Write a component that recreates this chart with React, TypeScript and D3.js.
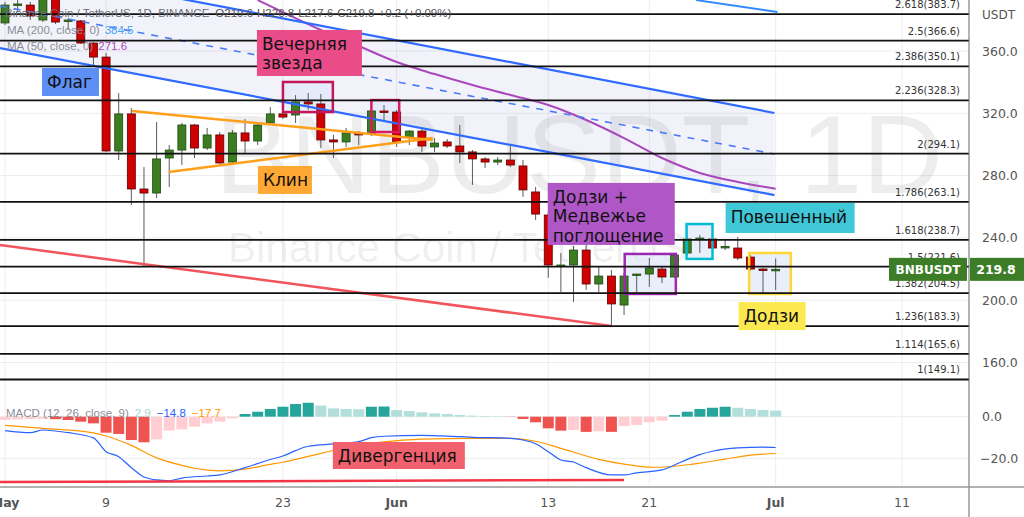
import React from 'react'
import * as d3 from 'd3'

const startDay = Date.UTC(2022, 4, 1)
const endDay = Date.UTC(2022, 6, 11)
const DAY = 864e5

// daily candles, 1 May - 1 Jul 2022
const opens = [378.0, 389.5, 389.5, 379.9, 394.7, 379.3, 379.3, 365.1, 356.1, 295.8, 319.6, 271.4, 268.8, 291.3, 296.4, 312.5, 297.7, 306.1, 288.7, 307.4, 302.2, 313.8, 319.6, 318.9, 327.3, 326.0, 302.9, 301.6, 307.4, 306.7, 321.5, 320.8, 304.8, 308.6, 298.4, 301.6, 299.0, 295.2, 290.7, 288.7, 290.0, 286.2, 269.5, 254.7, 222.0, 222.6, 232.2, 210.4, 215.5, 196.9, 216.2, 216.8, 220.0, 214.9, 230.3, 239.6, 239.3, 234.2, 233.5, 227.7, 220.0, 219.6]
const highs = [391.5, 392.7, 391.5, 397.9, 397.9, 381.2, 379.9, 365.8, 358.7, 333.0, 323.4, 285.5, 314.4, 299.6, 313.8, 313.1, 310.6, 308.0, 309.3, 316.3, 313.1, 324.0, 320.8, 331.7, 333.0, 332.4, 306.1, 310.6, 308.6, 323.4, 325.3, 322.1, 309.3, 310.6, 304.1, 303.5, 312.5, 296.4, 291.9, 291.9, 299.0, 290.0, 272.7, 256.6, 230.2, 234.8, 235.4, 221.3, 219.4, 217.5, 216.8, 227.1, 221.9, 230.3, 240.6, 241.9, 241.2, 238.6, 240.6, 229.0, 220.7, 226.8]
const lows = [376.7, 385.0, 379.9, 378.6, 377.3, 373.5, 364.5, 351.0, 295.2, 290.0, 261.1, 221.3, 265.6, 272.7, 286.8, 291.3, 296.4, 287.4, 288.1, 294.5, 299.6, 313.1, 316.3, 313.8, 322.1, 297.7, 291.3, 298.4, 299.6, 305.4, 314.4, 298.4, 299.6, 295.2, 295.2, 297.7, 288.1, 274.0, 284.9, 286.8, 285.5, 266.3, 251.5, 214.3, 205.3, 198.8, 206.6, 205.3, 184.1, 190.5, 205.3, 208.5, 211.0, 214.3, 229.0, 230.3, 232.2, 232.2, 225.8, 218.8, 204.6, 206.5]
const closes = [389.5, 390.2, 382.5, 394.7, 378.6, 379.9, 365.1, 356.1, 295.8, 319.6, 271.4, 268.8, 290.7, 296.4, 312.5, 297.7, 306.1, 288.1, 307.4, 302.2, 312.5, 319.6, 317.6, 327.3, 326.0, 302.9, 301.6, 307.4, 306.1, 321.5, 320.8, 301.6, 308.6, 299.0, 300.9, 299.0, 295.2, 290.7, 288.7, 290.0, 286.8, 270.8, 255.3, 222.6, 222.6, 232.2, 210.4, 215.5, 197.6, 215.5, 216.8, 220.7, 214.9, 229.0, 239.3, 239.9, 233.5, 234.5, 227.1, 220.0, 219.7, 219.8]

// MA 50
const ma50Days = [20, 22, 25, 28, 31, 34, 37, 40, 43, 46, 49, 52, 55, 58, 61]
const ma50Values = [392.7, 385.0, 373.5, 363.2, 352.9, 345.2, 338.2, 331.8, 325.3, 315.7, 304.1, 291.3, 281.7, 275.9, 271.6]

// MACD (12, 26, 9)
const macdHist = [-1.5, -1.3, -1.1, -1.0, -1.2, -1.6, -2.4, -3.2, -7.7, -8.3, -11.2, -12.3, -10.9, -6.7, -6.1, -4.8, -3.2, -2.4, -0.8, 1.3, 2.4, 3.7, 4.8, 6.1, 6.7, 5.4, 4.0, 3.7, 3.6, 4.8, 4.9, 3.2, 2.7, 2.1, 1.6, 1.3, 0.8, 0.5, 0.3, 0.2, -0.1, -1.1, -2.7, -5.6, -6.7, -6.4, -7.3, -7.0, -7.3, -4.5, -4.0, -2.7, -1.9, 0.8, 2.4, 3.7, 4.3, 4.8, 4.3, 3.7, 3.2, 2.9]
const macdDays = [0, 2, 3, 5, 7, 8, 9, 10, 11, 12, 13, 14, 16, 17, 19, 21, 22, 23, 24, 26, 28, 29, 30, 33, 35, 37, 40, 41, 42, 43, 44, 45, 46, 48, 49, 50, 52, 53, 54, 55, 56, 58, 60, 61]
const macdValues = [-6.7, -7.7, -6.4, -7.7, -10.2, -16.8, -19.2, -24.5, -29.0, -30.4, -30.8, -29.5, -28.5, -28.0, -24.5, -20.6, -18.9, -16.3, -14.2, -13.1, -12.0, -10.1, -9.4, -9.0, -9.3, -9.9, -10.4, -11.2, -13.0, -16.8, -20.8, -21.8, -24.5, -28.0, -28.0, -27.0, -25.6, -23.2, -20.5, -18.2, -16.6, -15.0, -14.6, -14.8]
const signalDays = [0, 3, 7, 8, 10, 12, 14, 15, 17, 19, 21, 22, 25, 28, 30, 33, 37, 40, 42, 44, 47, 49, 51, 52, 54, 55, 57, 59, 61]
const signalValues = [-4.1, -5.6, -7.8, -9.3, -13.8, -19.8, -23.4, -24.8, -26.0, -25.2, -22.9, -21.9, -17.6, -13.7, -12.1, -10.8, -10.4, -10.4, -11.8, -15.2, -20.5, -22.8, -24.2, -24.3, -23.1, -22.3, -20.4, -18.5, -17.7]

const fibRatios = ['2.618', '2.5', '2.386', '2.236', '2', '1.786', '1.618', '1.5', '1.382', '1.236', '1.114', '1']
const fibPrices = [383.7, 366.6, 350.1, 328.3, 294.1, 263.1, 238.7, 221.6, 204.5, 183.3, 165.6, 149.1]

const priceTicks = [360, 320, 280, 240, 200, 160]
const macdTicks = [0, -20]
const timeTicks = ['2022-05-01', '2022-05-09', '2022-05-23', '2022-06-01', '2022-06-13', '2022-06-21', '2022-07-01', '2022-07-11']
const timeLabels = ['May', '9', '23', 'Jun', '13', '21', 'Jul', '11']

// drawings, [day, price]
const channelUpper = [[-0.4, 415.9], [60.9, 320.2]]
const channelLower = [[-0.4, 361.9], [60.9, 267.5]]
const topRightLine = [[54.7, 392.7], [61.15, 385.0]]
const wedgeUpper = [[10.05, 321.5], [33.86, 302.9]]
const wedgeLower = [[12.97, 282.3], [33.86, 304.1]]
const supportLine = [[-0.4, 235.4], [48.0, 183.4]]
const macdDivLine = [[-0.4, -31.4], [49.0, -30.4]]

const FONT = 'Liberation Sans, Arial, sans-serif'
const DJ = 'DejaVu Sans, sans-serif'

export default function App() {
  const W = 1024
  const H = 517
  const PR = 969

  const x = d3.scaleUtc().domain([new Date(startDay), new Date(endDay)]).range([5, 902])
  const xd = (d: number) => x(new Date(startDay + d * DAY))
  const y = d3.scaleLinear().domain([160, 360]).range([362.5, 51])
  const ym = d3.scaleLinear().domain([-20, 0]).range([458.3, 416.7])

  const seg = (p: number[][], sy = y) => ({ x1: xd(p[0][0]), y1: sy(p[0][1]), x2: xd(p[1][0]), y2: sy(p[1][1]) })

  const maLine = d3.line<number>().x((d, i) => xd(ma50Days[i])).y(d => y(d)).curve(d3.curveMonotoneX)
  const macdPath = d3.line<number>().x((d, i) => xd(macdDays[i])).y(d => ym(d)).curve(d3.curveMonotoneX)
  const sigPath = d3.line<number>().x((d, i) => xd(signalDays[i])).y(d => ym(d)).curve(d3.curveMonotoneX)

  const histColor = (v: number, i: number) => {
    const prev = i > 0 ? macdHist[i - 1] : v
    if (v >= 0) return v > prev ? '#26a69a' : '#b2dfdb'
    return v < prev ? '#ef5350' : '#ffcdd2'
  }

  const chan = [
    [xd(channelUpper[0][0]), y(channelUpper[0][1])],
    [xd(channelUpper[1][0]), y(channelUpper[1][1])],
    [xd(channelLower[1][0]), y(channelLower[1][1])],
    [xd(channelLower[0][0]), y(channelLower[0][1])],
  ]
  const midA = [channelUpper[0][0], (channelUpper[0][1] + channelLower[0][1]) / 2]
  const midB = [channelUpper[1][0], (channelUpper[1][1] + channelLower[1][1]) / 2]

  // outlined pattern boxes [day0, day1, priceTop, priceBottom]
  const boxes = [
    { d: [22.0, 25.95, 340.1, 320.8], c: '#c2185b' },
    { d: [29.0, 31.2, 328.5, 308.0], c: '#d81b60' },
    { d: [49.05, 53.1, 229.7, 204.0], c: '#9c27b0' },
    { d: [53.95, 56.0, 248.9, 226.5], c: '#00bcd4' },
    { d: [58.9, 62.2, 230.3, 204.0], c: '#fdd835' },
  ]

  // label callouts anchored at [day, price], size in px
  const labels = [
    { at: [2.93, 349.1], w: 57, h: 28, c: '#5e8ff5', lines: ['Флаг'] },
    { at: [19.94, 373.5], w: 105, h: 46, c: '#ea4c89', lines: ['Вечерняя', 'звезда'] },
    { at: [20.02, 286.2], w: 54, h: 28, c: '#ffa833', lines: ['Клин'] },
    { at: [42.96, 275.3], w: 127, h: 62, c: '#b057c7', lines: ['Додзи +', 'Медвежье', 'поглощение'] },
    { at: [57.04, 262.4], w: 129, h: 30, c: '#40c8d8', lines: ['Повешенный'] },
    { at: [58.07, 198.8], w: 67, h: 28, c: '#fce94f', lines: ['Додзи'] },
  ]
  const divLabel = { at: [25.95, -12.16], w: 132, h: 27, c: '#f0616d', lines: ['Дивергенция'] }

  const renderLabel = (l: any, sy: any, key: string) => {
    const lx = xd(l.at[0])
    const ly = sy(l.at[1])
    return (
      <g key={key}>
        <rect x={lx} y={ly} width={l.w} height={l.h} fill={l.c} />
        {l.lines.map((t: string, i: number) => (
          <text key={i} x={lx + 5} y={ly + 20 + i * 19.5} fontFamily={DJ} fontSize={17} fill="#111">{t}</text>
        ))}
      </g>
    )
  }

  const closeLast = closes[closes.length - 1]

  return (
    <div style={{ position: 'absolute', left: 0, top: 0 }}>
      <svg width={W} height={H} style={{ display: 'block', background: '#fff' }}>
        <defs>
          <clipPath id="pricePane"><rect x={0} y={0} width={PR} height={397} /></clipPath>
          <clipPath id="macdPane"><rect x={0} y={397} width={PR} height={90} /></clipPath>
        </defs>

        {/* grid */}
        {timeTicks.map((t, i) => (
          <line key={'vg' + i} x1={x(new Date(t))} x2={x(new Date(t))} y1={0} y2={487} stroke="#ededed" />
        ))}
        {priceTicks.map(p => (
          <line key={'hg' + p} x1={0} x2={PR} y1={y(p)} y2={y(p)} stroke="#ededed" />
        ))}
        {macdTicks.map(v => (
          <line key={'mg' + v} x1={0} x2={PR} y1={ym(v)} y2={ym(v)} stroke="#ededed" />
        ))}

        <g clipPath="url(#pricePane)">
          {/* watermark */}
          <text x={215} y={193} fontFamily={FONT} fontSize={112} fill="#000" fillOpacity={0.07}>BNBUSDT, 1D</text>
          <text x={228} y={262} fontFamily={FONT} fontSize={42} fill="#000" fillOpacity={0.07}>Binance Coin / TetherUS</text>

          {/* channel */}
          <polygon points={chan.map(p => p.join(',')).join(' ')} fill="#5c6bc0" fillOpacity={0.08} />

          {boxes.map((b, i) => (
            <rect key={'bf' + i} x={xd(b.d[0])} y={y(b.d[2])} width={xd(b.d[1]) - xd(b.d[0])} height={y(b.d[3]) - y(b.d[2])}
              fill="#dfe7fa" fillOpacity={0.7} />
          ))}

          {/* candles */}
          {opens.map((o, i) => {
            const c = closes[i]
            const up = c >= o
            const cx = xd(i)
            const top = y(Math.max(o, c))
            const hgt = Math.max(1.5, Math.abs(y(o) - y(c)))
            return (
              <g key={'c' + i}>
                <line x1={cx} x2={cx} y1={y(highs[i])} y2={y(lows[i])} stroke="#5a5a5a" strokeWidth={1} />
                <rect x={cx - 4} y={top} width={8} height={hgt}
                  fill={up ? '#3c7d22' : '#d00000'} stroke={up ? '#1f4a10' : '#5c0000'} strokeWidth={0.8} />
              </g>
            )
          })}

          {/* MA 50 */}
          <path d={maLine(ma50Values) || ''} fill="none" stroke="#ab47bc" strokeWidth={2} />

          {/* channel lines */}
          <line {...seg(channelUpper)} stroke="#2f6bff" strokeWidth={2.2} />
          <line {...seg(channelLower)} stroke="#2f6bff" strokeWidth={2.2} />
          <line {...seg([midA, midB])} stroke="#4a7cf5" strokeWidth={1.6} strokeDasharray="7 7" />
          <line {...seg(topRightLine)} stroke="#2f8bff" strokeWidth={2} />

          {/* wedge and support */}
          <line {...seg(wedgeUpper)} stroke="#ff9f1a" strokeWidth={2.5} />
          <line {...seg(wedgeLower)} stroke="#ff9f1a" strokeWidth={2.5} />
          <line {...seg(supportLine)} stroke="#f2545b" strokeWidth={2.5} />

          {boxes.map((b, i) => (
            <rect key={'bo' + i} x={xd(b.d[0])} y={y(b.d[2])} width={xd(b.d[1]) - xd(b.d[0])} height={y(b.d[3]) - y(b.d[2])}
              fill="none" stroke={b.c} strokeWidth={2.5} />
          ))}

          {/* fibonacci extension */}
          {fibPrices.map((p, i) => (
            <g key={'f' + i}>
              <line x1={0} x2={PR} y1={y(p)} y2={y(p)} stroke="#111" strokeWidth={1.8} />
              <text x={960} y={y(p) - 6} textAnchor="end" fontFamily={DJ} fontSize={10} fill="#333">
                {fibRatios[i]}({p.toFixed(1)})
              </text>
            </g>
          ))}

          {labels.map((l, i) => renderLabel(l, y, 'l' + i))}

          {/* legend */}
          <text x={5} y={17} fontFamily={FONT} fontSize={11.5} fill="#6a6d78">
            Binance Coin / TetherUS, 1D, BINANCE
            <tspan dx={6} fill="#555">O219.6</tspan>
            <tspan dx={4} fill="#555">H226.8</tspan>
            <tspan dx={4} fill="#555">L217.6</tspan>
            <tspan dx={4} fill="#555">C219.8</tspan>
            <tspan dx={4} fill="#555">+0.2 (+0.09%)</tspan>
          </text>
          <text x={7} y={34} fontFamily={FONT} fontSize={11.5} fill="#8a8d96">
            MA (200, close, 0)<tspan dx={5} fill="#42a5f5">384.5</tspan>
          </text>
          <text x={7} y={50} fontFamily={FONT} fontSize={11.5} fill="#8a8d96">
            MA (50, close, 0)<tspan dx={5} fill="#ab47bc">271.6</tspan>
          </text>
        </g>

        {/* MACD pane */}
        <g clipPath="url(#macdPane)">
          {macdHist.map((v, i) => (
            <rect key={'h' + i} x={xd(i) - 5.5} width={11} y={Math.min(ym(v), ym(0))} height={Math.abs(ym(v) - ym(0))}
              fill={histColor(v, i)} />
          ))}
          <path d={sigPath(signalValues) || ''} fill="none" stroke="#ff9800" strokeWidth={1.2} />
          <path d={macdPath(macdValues) || ''} fill="none" stroke="#2962ff" strokeWidth={1.2} />
          <line {...seg(macdDivLine, ym)} stroke="#f23645" strokeWidth={2.5} />
          {renderLabel(divLabel, ym, 'div')}
          <text x={6} y={417} fontFamily={FONT} fontSize={11.5} fill="#8a8d96">
            MACD (12, 26, close, 9)
            <tspan dx={6} fill="#a5d6d0">2.9</tspan>
            <tspan dx={6} fill="#2962ff">−14.8</tspan>
            <tspan dx={6} fill="#ff9800">−17.7</tspan>
          </text>
        </g>

        {/* axes */}
        <line x1={PR} x2={PR} y1={0} y2={H} stroke="#666" strokeWidth={1} />
        <line x1={0} x2={W} y1={487} y2={487} stroke="#999" strokeWidth={1.5} />
        <text x={982} y={19} fontFamily={DJ} fontSize={12} fill="#555">USDT</text>
        {priceTicks.map(p => (
          <text key={'pt' + p} x={982} y={y(p) + 4.5} fontFamily={DJ} fontSize={12.5} fill="#555">{p.toFixed(1)}</text>
        ))}
        {macdTicks.map(v => (
          <text key={'mt' + v} x={v < 0 ? 980 : 982} y={ym(v) + 4.5} fontFamily={DJ} fontSize={12.5} fill="#555">
            {v === 0 ? '0.0' : '−' + Math.abs(v).toFixed(1)}
          </text>
        ))}
        {timeTicks.map((t, i) => (
          <text key={'tt' + i} x={x(new Date(t))} y={507} textAnchor="middle" fontFamily={DJ} fontSize={12.5}
            fontWeight={isNaN(+timeLabels[i]) ? 'bold' : 'normal'} fill="#555">{timeLabels[i]}</text>
        ))}

        {/* last price */}
        <rect x={889} y={y(closeLast) - 11.5} width={78} height={23} fill="#3d7d28" />
        <text x={928} y={y(closeLast) + 4.5} textAnchor="middle" fontFamily={DJ} fontSize={12} fontWeight="bold" fill="#fff">BNBUSDT</text>
        <rect x={PR + 1} y={y(closeLast) - 11.5} width={W - PR - 1} height={23} fill="#3d7d28" />
        <text x={996} y={y(closeLast) + 4.5} textAnchor="middle" fontFamily={DJ} fontSize={12.5} fontWeight="bold" fill="#fff">
          {closeLast.toFixed(1)}
        </text>
      </svg>
    </div>
  )
}
